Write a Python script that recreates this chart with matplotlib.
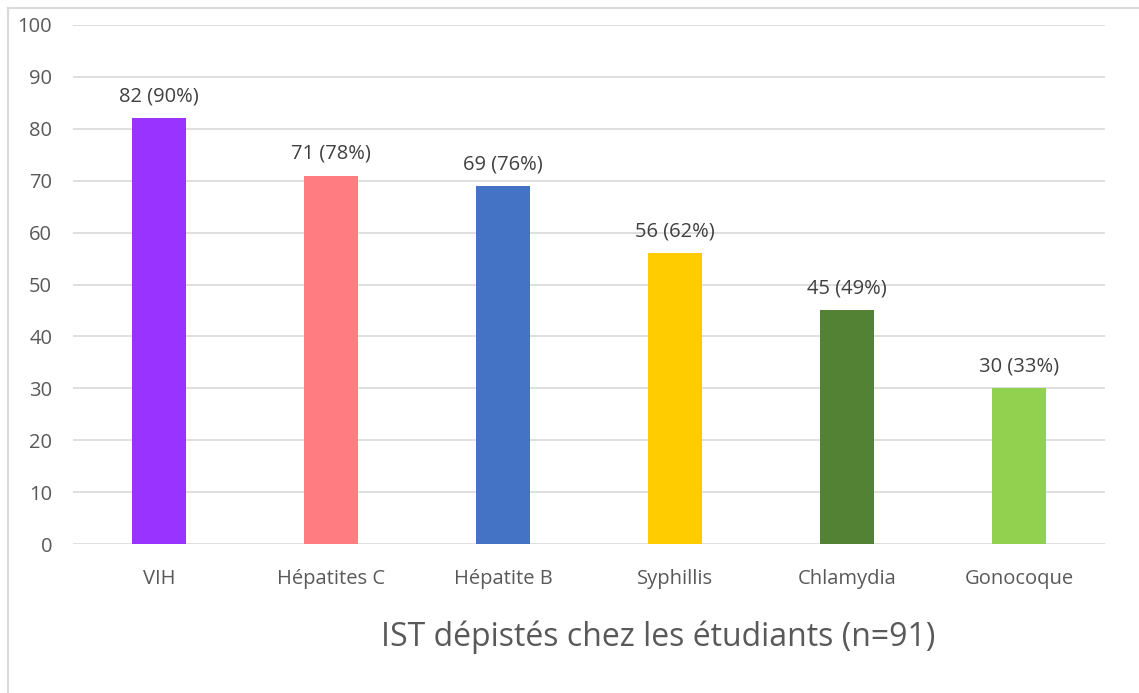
import matplotlib
matplotlib.use("Agg")
import matplotlib.pyplot as plt
from matplotlib.lines import Line2D

categories = ["VIH", "Hépatites C", "Hépatite B", "Syphillis", "Chlamydia", "Gonocoque"]
values = [82, 71, 69, 56, 45, 30]
percents = [90, 78, 76, 62, 49, 33]
colors = ["#9933FF", "#FF7C80", "#4472C4", "#FFCC00", "#548235", "#92D050"]
yticks = [0, 10, 20, 30, 40, 50, 60, 70, 80, 90, 100]
title = "IST dépistés chez les étudiants (n=91)"

plt.rcParams['font.family'] = ['Open Sans', 'DejaVu Sans']
txt = "#595959"

W, H = 1139, 693
fig = plt.figure(figsize=(W/100, H/100), dpi=100)
ax = fig.add_axes([73/W, 1-544/H, (1105-73)/W, (544-25)/H])

x = list(range(len(categories)))
ax.bar(x, values, width=0.314, color=colors, zorder=3)
for xi, v, p in zip(x, values, percents):
    ax.annotate(f"{v} ({p}%)", (xi, v), xytext=(0, 8.5), textcoords="offset points",
                ha="center", va="bottom", fontsize=14.5, color="#404040")

ax.set_xlim(-0.5, len(categories)-0.5)
ax.set_ylim(0, 100)
ax.set_yticks(yticks)
ax.set_yticklabels([str(t) for t in yticks], fontsize=14.5, color=txt)
ax.set_xticks(x)
ax.set_xticklabels(categories, fontsize=14.5, color=txt)
ax.tick_params(axis="y", length=0, pad=15)
ax.tick_params(axis="x", length=0, pad=18)
ax.grid(axis="y", color="#d9d9d9", linewidth=1.2, zorder=0)
for s in ax.spines.values():
    s.set_visible(False)

fig.text(658/W, 1-637/H, title, ha="center", va="center", fontsize=23, color=txt)

fig.add_artist(Line2D([8/W, 8/W], [0, 1-8/H], transform=fig.transFigure, color="#d9d9d9", linewidth=1.5))
fig.add_artist(Line2D([8/W, 1], [1-8/H, 1-8/H], transform=fig.transFigure, color="#d9d9d9", linewidth=1.5))

fig.savefig("out.png", dpi=100)
